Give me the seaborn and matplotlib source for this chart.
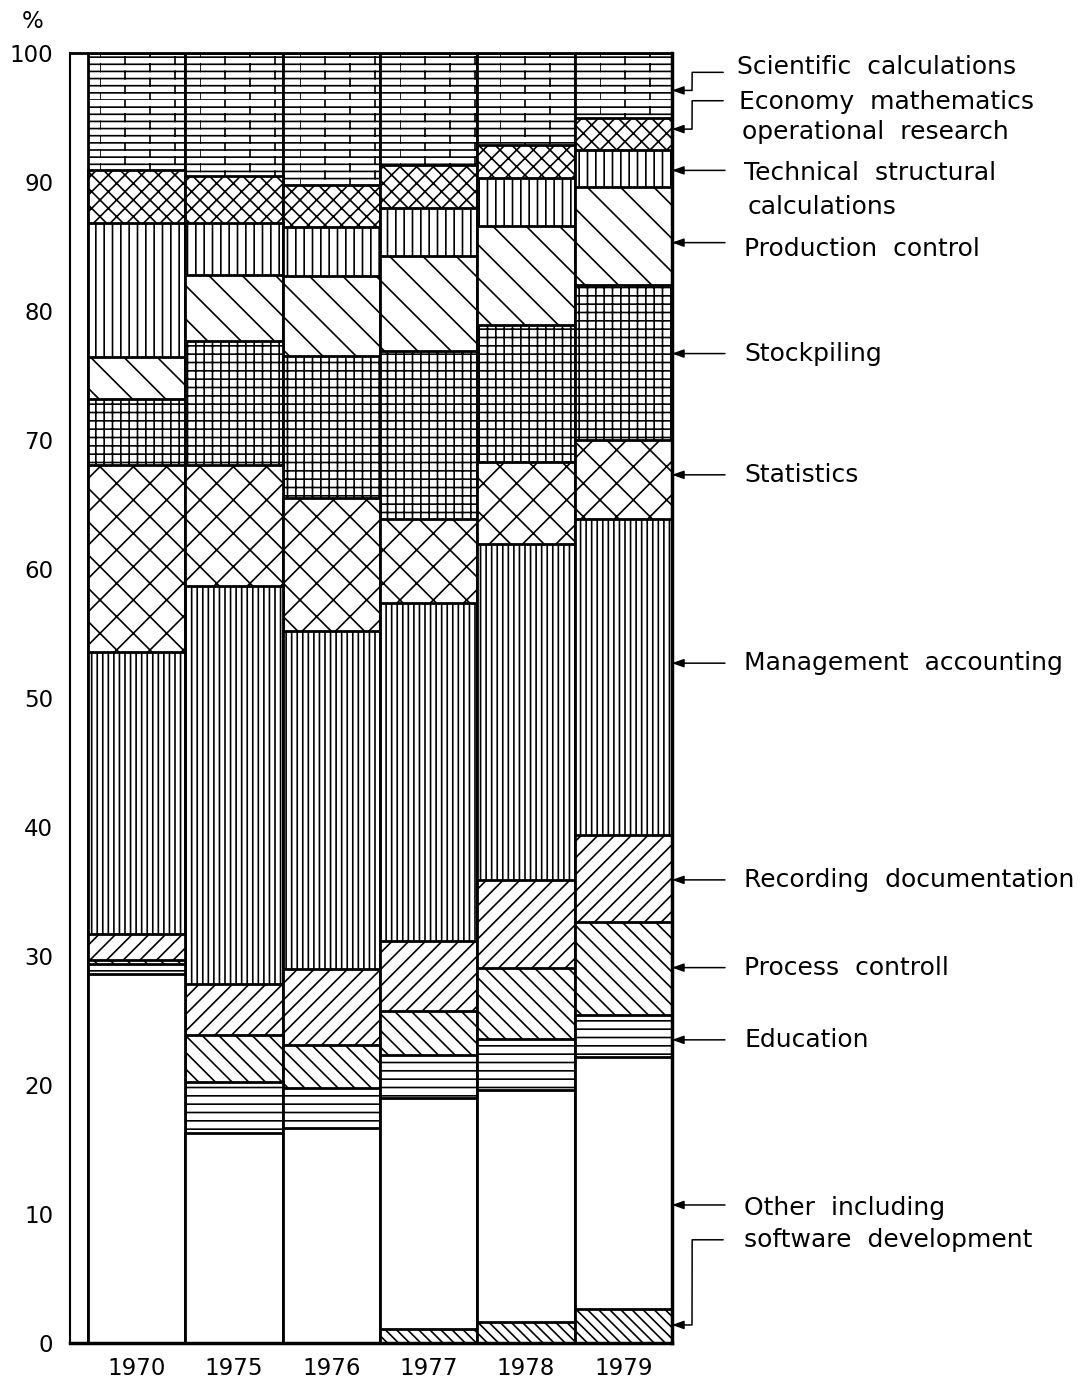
import numpy as np
import pandas as pd
import matplotlib
matplotlib.use("Agg")
import matplotlib.pyplot as plt
import matplotlib.hatch as mhatch
from matplotlib.path import Path
import seaborn as sns

# ---------------- data (percent shares) ----------------
years = ["1970", "1975", "1976", "1977", "1978", "1979"]

software_development    = [0.0, 0.0, 0.0, 1.1, 1.6, 2.6]
other_including         = [28.6, 16.3, 16.7, 17.9, 18.0, 19.6]
education               = [0.8, 3.9, 3.1, 3.3, 4.0, 3.2]
process_control         = [0.3, 3.7, 3.3, 3.4, 5.5, 7.2]
recording_documentation = [2.0, 3.9, 5.9, 5.5, 6.8, 6.8]
management_accounting   = [21.9, 30.9, 26.2, 26.2, 26.0, 24.5]
statistics              = [14.5, 9.4, 10.3, 6.5, 6.4, 6.1]
stockpiling             = [5.1, 9.6, 11.0, 13.0, 10.6, 12.0]
production_control      = [3.2, 5.1, 6.2, 7.4, 7.7, 7.6]
technical_structural    = [10.4, 4.0, 3.8, 3.7, 3.7, 2.9]
economy_mathematics     = [4.1, 3.7, 3.3, 3.3, 2.6, 2.5]
scientific_calculations = [9.1, 9.5, 10.2, 8.7, 7.1, 5.0]

y_ticks = [0, 10, 20, 30, 40, 50, 60, 70, 80, 90, 100]

# stacking order, bottom to top
series = [
    ("software", software_development, "\\\\\\"),
    ("other", other_including, ""),
    ("education", education, "--"),
    ("process", process_control, "\\\\"),
    ("recording", recording_documentation, "//"),
    ("management", management_accounting, "|||"),
    ("statistics", statistics, "x"),
    ("stockpiling", stockpiling, "++"),
    ("production", production_control, "\\"),
    ("technical", technical_structural, "||"),
    ("economy", economy_mathematics, "xx"),
    ("scientific", scientific_calculations, "O"),   # 'O' -> brick pattern (below)
]

# ---------------- custom brick hatch, mapped onto 'O' ----------------
class BrickHatch(mhatch.HatchPatternBase):
    def __init__(self, hatch, density):
        self.rows = 14 if hatch.count("O") else 0
        self.num_vertices = self.rows * 3 * 2

    def set_vertices_and_codes(self, vertices, codes):
        k = 0
        for i in range(self.rows):
            y0 = i / self.rows
            y1 = (i + 1) / self.rows
            segs = [((0.0, y0), (1.0, y0))]
            xs = (0.0, 0.5) if i % 2 == 0 else (0.25, 0.75)
            for x in xs:
                segs.append(((x, y0), (x, y1)))
            for a, b in segs:
                vertices[k] = a
                vertices[k + 1] = b
                codes[k] = Path.MOVETO
                codes[k + 1] = Path.LINETO
                k += 2

_ht = mhatch._hatch_types
_ht[_ht.index(mhatch.LargeCircles)] = BrickHatch

# ---------------- style ----------------
sns.set_style("white")
plt.rcParams["font.family"] = ["DejaVu Sans"]
plt.rcParams["text.color"] = "black"
plt.rcParams["hatch.linewidth"] = 1.2
plt.rcParams["hatch.color"] = "black"

df = pd.DataFrame({"year": years})
running = np.zeros(len(years))
for name, vals, _ in series:
    running = running + np.array(vals)
    df[name] = running

fig = plt.figure(figsize=(10.82, 13.85), dpi=100)
ax = fig.add_axes([70 / 1082, 42 / 1385, 602 / 1082, 1290 / 1385])

# draw cumulative bars from the top category down (each overlays the lower part)
for name, _, hatch in reversed(series):
    sns.barplot(data=df, x="year", y=name, color="white", edgecolor="black",
                linewidth=2.0, hatch=hatch, width=1.0, saturation=1,
                errorbar=None, ax=ax)

ax.set_xlim(-0.685, 5.5)
ax.set_ylim(0, 100)
ax.set_yticks(y_ticks)
ax.set_yticklabels([str(t) for t in y_ticks])
ax.set_xlabel("")
ax.set_ylabel("")
ax.tick_params(axis="y", direction="in", length=13, width=1.2,
               labelsize=16.5, pad=12, colors="black", labelcolor="black")
ax.tick_params(axis="x", length=0, labelsize=16.5, pad=10, colors="black",
               labelcolor="black")

for side, lw in [("left", 1.5), ("top", 2.0), ("right", 2.5), ("bottom", 2.5)]:
    ax.spines[side].set_visible(True)
    ax.spines[side].set_linewidth(lw)
    ax.spines[side].set_color("black")

fig.text(33 / 1082, 1 - 22 / 1385, "%", ha="center", va="center",
         fontsize=16.5, color="black")

# ---------------- right-hand labels with leader arrows ----------------
trans = ax.get_yaxis_transform()  # x in axes fraction, y in data
fs = 18
arrow_kw = dict(arrowstyle="-|>,head_length=0.7,head_width=0.25", lw=1.1,
                color="black", shrinkA=0, shrinkB=0)

texts = [
    ("Scientific  calculations", 98.9, 1.108),
    ("Economy  mathematics", 96.2, 1.111),
    ("operational  research", 93.9, 1.116),
    ("Technical  structural", 90.7, 1.120),
    ("calculations", 88.1, 1.125),
    ("Production  control", 84.8, 1.120),
    ("Stockpiling", 76.7, 1.120),
    ("Statistics", 67.3, 1.120),
    ("Management  accounting", 52.7, 1.120),
    ("Recording  documentation", 35.9, 1.120),
    ("Process  controll", 29.1, 1.120),
    ("Education", 23.5, 1.120),
    ("Other  including", 10.5, 1.120),
    ("software  development", 8.0, 1.120),
]
for s, y, x in texts:
    ax.text(x, y, s, transform=trans, ha="left", va="center", fontsize=fs,
            color="black", clip_on=False)

# straight arrows (tip y)
for y in [90.9, 85.3, 76.7, 67.3, 52.7, 35.9, 29.1, 23.5, 10.7]:
    ax.annotate("", xy=(1.0, y), xycoords=trans, xytext=(1.088, y),
                textcoords=trans, arrowprops=arrow_kw, annotation_clip=False)

# elbow arrows (start y at label, tip y at bar); arms in display pixels
for y_from, y_to in [(98.5, 97.1), (96.3, 94.1), (8.0, 1.4)]:
    kw = dict(arrow_kw)
    kw["connectionstyle"] = "arc,angleA=180,angleB=0,armA=31,armB=20,rad=0"
    ax.annotate("", xy=(1.0, y_to), xycoords=trans, xytext=(1.085, y_from),
                textcoords=trans, arrowprops=kw, annotation_clip=False)

fig.savefig("out.png", dpi=100)
